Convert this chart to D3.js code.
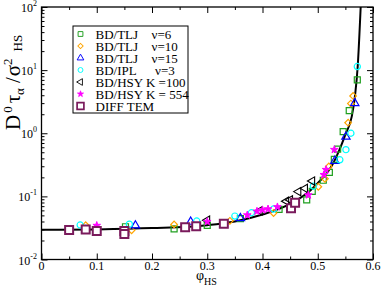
<!DOCTYPE html>
<html lang="en">
<head>
<meta charset="utf-8">
<script src="https://cdn.jsdelivr.net/npm/d3@7.8.5/dist/d3.min.js"></script>
<title>tau alpha vs phi HS</title>
<style>
    body { margin: 0; background: #fff; }
    text { font-family: "Liberation Serif", "Times New Roman", serif; fill: #000; }
</style>
</head>
<body>
<svg width="382" height="292"></svg>
<script>
// values, [phi_HS, D0 tau_alpha / sigma^2]
var tljNu6 = [[0.152,0.033],[0.24,0.0305],[0.30,0.0347],[0.36,0.0443],[0.43,0.0623],[0.48,0.0877],
    [0.49,0.12],[0.51,0.18],[0.521,0.24],[0.53,0.385],[0.536,0.56],[0.546,1.06],[0.557,2.28],[0.5716,7.0]];
var tljNu10 = [[0.08,0.035],[0.163,0.029],[0.24,0.036],[0.341,0.041],[0.42,0.0545],[0.501,0.142],
    [0.513,0.19],[0.52,0.297],[0.555,1.47],[0.56,2.95],[0.564,3.9]];
var tljNu15 = [[0.17,0.0345],[0.27,0.0395],[0.36,0.045],[0.531,0.365],[0.551,0.88],[0.567,3.0]];
var iplNu3 = [[0.07,0.0352],[0.159,0.0362],[0.281,0.0407],[0.35,0.0487],[0.38,0.055],[0.42,0.063],
    [0.492,0.145],[0.54,0.38],[0.551,0.55],[0.56,1.0],[0.5716,11.4]];
var hsyK100 = [[0.30,0.042],[0.395,0.059],[0.443,0.084],[0.45,0.088],[0.465,0.119],[0.477,0.134],[0.49,0.175]];
var hsyK554 = [[0.10,0.0345],[0.30,0.0398],[0.3725,0.0505],[0.39,0.058],[0.40,0.061],[0.41,0.063],
    [0.427,0.068],[0.483,0.105],[0.511,0.22],[0.515,0.265],[0.53,0.55]];
var diffTem = [[0.05,0.0293],[0.08,0.030],[0.10,0.0283],[0.15,0.0283],[0.15,0.0254],[0.26,0.0324],
    [0.28,0.0335],[0.33,0.0367],[0.4516,0.0647],[0.459,0.079]];

// the solid theory line
var fitPhi = [0, 0.1, 0.2, 0.3, 0.35, 0.4, 0.45, 0.486, 0.505, 0.525, 0.539, 0.55, 0.5615, 0.5674, 0.5723, 0.5777, 0.58];
var fitTau = [0.0295, 0.030, 0.0315, 0.035, 0.040, 0.0515, 0.076, 0.123, 0.18, 0.30, 0.54, 0.95, 1.83, 3.9, 11.4, 100, 300];

var xTicks = [0, 0.1, 0.2, 0.3, 0.4, 0.5, 0.6];
var xMinor = [0.05, 0.15, 0.25, 0.35, 0.45, 0.55];
var yExps = [-2, -1, 0, 1, 2];

var legendNames = ["BD/TLJ", "BD/TLJ", "BD/TLJ", "BD/IPL", "BD/HSY K =100", "BD/HSY K = 554", "DIFF TEM"];
var legendNu = ["\u03bd=6", "\u03bd=10", "\u03bd=15", "\u03bd=3", "", "", ""];

var svg = d3.select("svg");
var pLeft = 41.5, pRight = 373, pTop = 7, pBottom = 259.5;

var x = d3.scaleLinear().domain([0, 0.6]).range([pLeft, pRight]);
var y = d3.scaleLog().domain([0.01, 100]).range([pBottom, pTop]);

var tri = d3.symbol().type(d3.symbolTriangle).size(30);
var series = [
    {data: tljNu6, color: "#1f9f1f", path: d3.symbol().type(d3.symbolSquare).size(36)(), rot: 0, fill: "none", sw: 1.2},
    {data: tljNu10, color: "#ffa500", path: d3.symbol().type(d3.symbolSquare).size(22)(), rot: 45, fill: "none", sw: 1.2},
    {data: tljNu15, color: "#0000ff", path: tri(), rot: 0, fill: "none", sw: 1.2},
    {data: iplNu3, color: "#00ffff", path: d3.symbol().type(d3.symbolCircle).size(30)(), rot: 0, fill: "none", sw: 1.2},
    {data: hsyK100, color: "#000000", path: tri(), rot: -90, fill: "none", sw: 1.1},
    {data: hsyK554, color: "#ff00ff", path: d3.symbol().type(d3.symbolStar).size(18)(), rot: 0, fill: "#ff00ff", sw: 1},
    {data: diffTem, color: "#7a1b5c", path: d3.symbol().type(d3.symbolSquare).size(64)(), rot: 0, fill: "#fff", sw: 2}
];

// ticks, all pointing inwards
var gx = svg.append("g").attr("transform", "translate(0," + pBottom + ")");
gx.call(d3.axisBottom(x).tickValues(xTicks).tickSize(-6).tickFormat(""));
gx.append("g").call(d3.axisBottom(x).tickValues(xMinor).tickSize(-3).tickFormat(""));
var gxt = svg.append("g").attr("transform", "translate(0," + pTop + ")");
gxt.call(d3.axisTop(x).tickValues(xTicks).tickSize(-6).tickFormat(""));
gxt.append("g").call(d3.axisTop(x).tickValues(xMinor).tickSize(-3).tickFormat(""));

var majors = yExps.map(function(e) { return Math.pow(10, e); });
var minors = [];
for (var e = -2; e < 2; e++) for (var k = 2; k < 10; k++) minors.push(k * Math.pow(10, e));
var gy = svg.append("g").attr("transform", "translate(" + pLeft + ",0)");
gy.call(d3.axisLeft(y).tickValues(majors).tickSize(-6).tickFormat(""));
gy.append("g").call(d3.axisLeft(y).tickValues(minors).tickSize(-3).tickFormat(""));
var gyr = svg.append("g").attr("transform", "translate(" + pRight + ",0)");
gyr.call(d3.axisRight(y).tickValues(majors).tickSize(-6).tickFormat(""));
gyr.append("g").call(d3.axisRight(y).tickValues(minors).tickSize(-3).tickFormat(""));
svg.selectAll(".domain").remove();
svg.selectAll(".tick line").attr("stroke", "#000").attr("stroke-width", 1);

svg.append("rect").attr("x", pLeft).attr("y", pTop).attr("width", pRight - pLeft).attr("height", pBottom - pTop)
    .attr("fill", "none").attr("stroke", "#000").attr("stroke-width", 1.3);

// tick labels
svg.selectAll(".xl").data(xTicks).enter().append("text")
    .attr("x", function(d) { return x(d); }).attr("y", pBottom + 10.5)
    .attr("text-anchor", "middle").style("font-size", "12px")
    .text(function(d) { return d === 0 ? "0" : d3.format(".1f")(d); });

var yl = svg.selectAll(".yl").data(yExps).enter().append("text")
    .attr("x", 37).attr("y", function(d) { return y(Math.pow(10, d)) + 5; })
    .attr("text-anchor", "end").style("font-size", "12px");
yl.append("tspan").text("10");
yl.append("tspan").attr("dy", -6).style("font-size", "8px").text(function(d) { return d; });

// axis titles
var xt = svg.append("text").attr("x", 196).attr("y", 279.5).style("font-size", "14px");
xt.append("tspan").text("\u03c6");
xt.append("tspan").attr("dy", 5.5).style("font-size", "10px").text("HS");

var ytl = svg.append("text").attr("transform", "translate(20,130) rotate(-90)").style("font-size", "21px");
ytl.append("tspan").text("D");
ytl.append("tspan").attr("dx", 2).attr("dy", -8).style("font-size", "13px").text("0");
ytl.append("tspan").attr("dx", 3).attr("dy", 8).text("\u03c4");
ytl.append("tspan").attr("dy", 4).style("font-size", "13px").text("\u03b1");
ytl.append("tspan").attr("dx", 5).attr("dy", -4).text("/");
ytl.append("tspan").attr("dx", 1).text("\u03c3");
ytl.append("tspan").attr("dy", -8).style("font-size", "13px").text("2");
ytl.append("tspan").attr("dx", 7).attr("dy", 10).style("font-size", "13px").text("HS");

// theory line
svg.append("clipPath").attr("id", "clip").append("rect")
    .attr("x", pLeft).attr("y", pTop).attr("width", pRight - pLeft).attr("height", pBottom - pTop);
var line = d3.line().x(function(d) { return x(d); }).y(function(d, i) { return y(fitTau[i]); })
    .curve(d3.curveMonotoneX);
svg.append("path").datum(fitPhi).attr("clip-path", "url(#clip)")
    .attr("d", line).attr("fill", "none").attr("stroke", "#000").attr("stroke-width", 2);

// points
series.forEach(function(s) {
    svg.append("g").selectAll("path").data(s.data).enter().append("path")
        .attr("d", s.path)
        .attr("transform", function(d) { return "translate(" + x(d[0]) + "," + y(d[1]) + ") rotate(" + s.rot + ")"; })
        .attr("fill", s.fill).attr("stroke", s.color).attr("stroke-width", s.sw);
});

// legend
var lg = svg.append("g");
lg.append("rect").attr("x", 73).attr("y", 26).attr("width", 115).attr("height", 87)
    .attr("fill", "#fff").attr("stroke", "#000").attr("stroke-width", 1);
series.forEach(function(s, i) {
    var cy = 34 + i * 12;
    var sc = i === 6 ? 0.85 : 0.8;
    lg.append("path").attr("d", s.path)
        .attr("transform", "translate(80.5," + cy + ") rotate(" + s.rot + ") scale(" + sc + ")")
        .attr("fill", s.fill).attr("stroke", s.color).attr("stroke-width", s.sw);
    lg.append("text").attr("x", 95.5).attr("y", cy + 4.5).style("font-size", "13px").text(legendNames[i]);
    if (legendNu[i]) {
        lg.append("text").attr("x", i === 3 ? 155 : 151.5).attr("y", cy + 4.5).style("font-size", "13px").text(legendNu[i]);
    }
});
</script>
</body>
</html>
